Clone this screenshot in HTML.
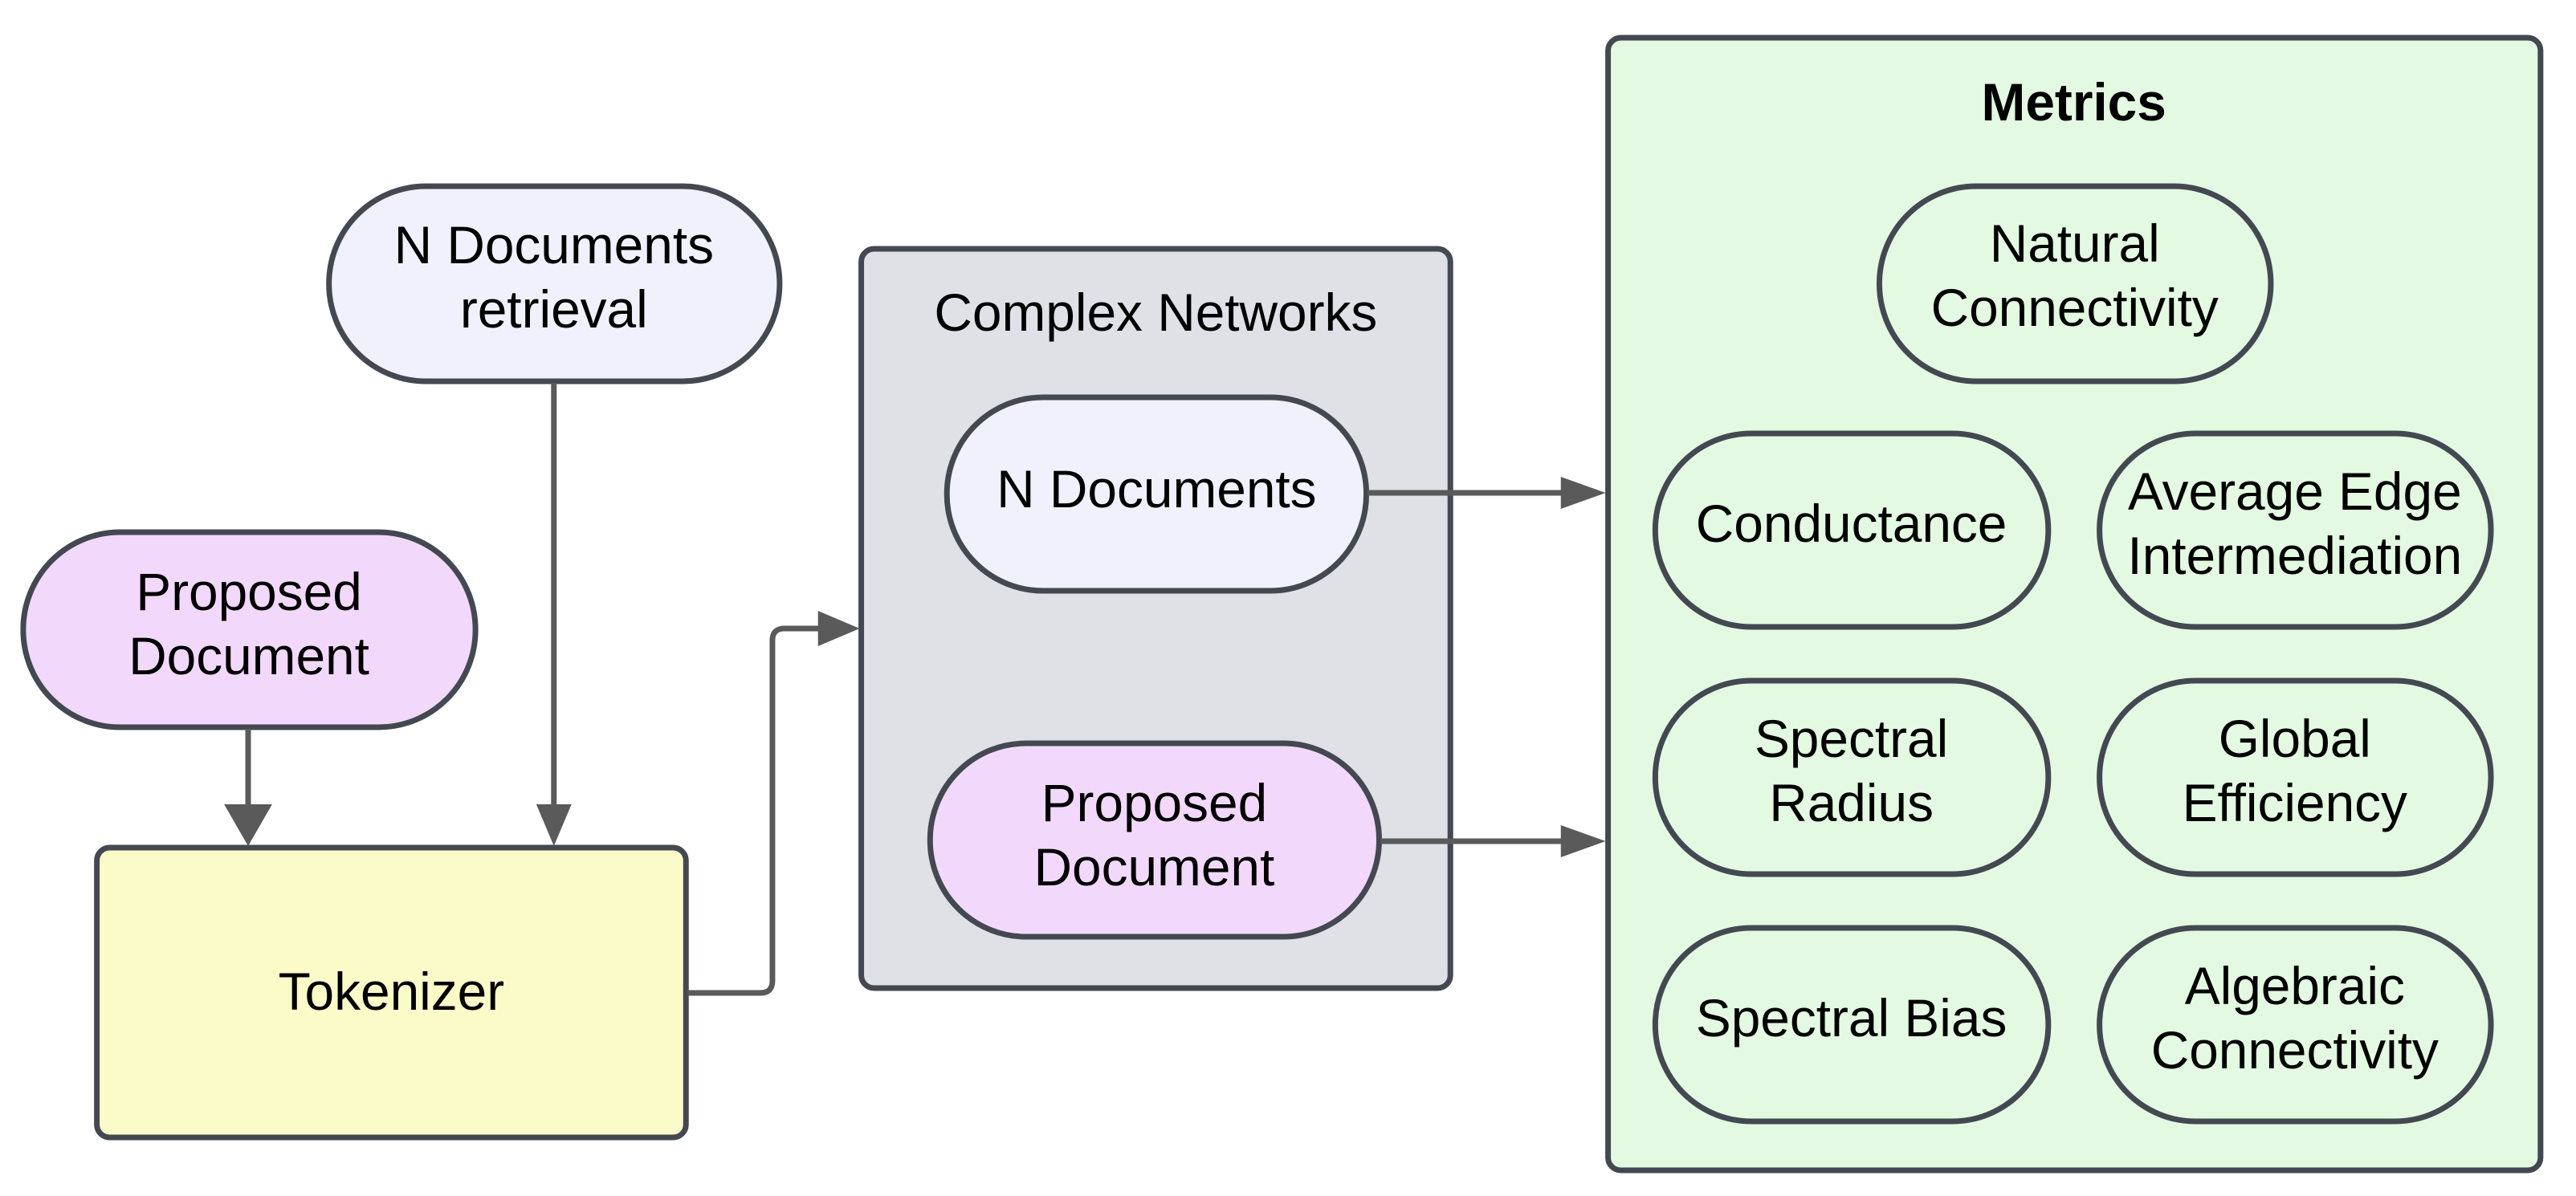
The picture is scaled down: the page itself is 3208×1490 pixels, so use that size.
<!DOCTYPE html>
<html><head><meta charset="utf-8"><style>
html,body{margin:0;padding:0;background:#fff;}
svg{display:block;}
text{font-family:"Liberation Sans",Arial,sans-serif;font-size:66px;fill:#000;text-anchor:middle;}
</style></head><body>
<svg width="3208" height="1490" viewBox="0 0 3208 1490" xmlns="http://www.w3.org/2000/svg">
<g transform="translate(0,-2) scale(0.9968,1)">
<g stroke="#434851" stroke-width="7">
<rect x="2009" y="49" width="1165" height="1411" rx="16" fill="#e3f9e2"/>
<rect x="1076" y="312" width="736" height="921" rx="16" fill="#dfe1e6"/>
<rect x="121" y="1058" width="736" height="361" rx="16" fill="#fbfac9"/>
<rect x="411" y="234" width="563" height="243" rx="121" fill="#f0f1fd"/>
<rect x="29" y="665" width="565" height="243" rx="121" fill="#f2d9fb"/>
<rect x="1183" y="497" width="524" height="241" rx="120" fill="#f0f1fd"/>
<rect x="1162" y="928" width="561" height="241" rx="120" fill="#f2d9fb"/>
<rect x="2348" y="234" width="489" height="243" rx="121" fill="#e3f9e2"/>
<rect x="2068" y="542" width="491" height="241" rx="120" fill="#e3f9e2"/>
<rect x="2623" y="542" width="489" height="241" rx="120" fill="#e3f9e2"/>
<rect x="2068" y="850" width="491" height="241" rx="120" fill="#e3f9e2"/>
<rect x="2623" y="850" width="489" height="241" rx="120" fill="#e3f9e2"/>
<rect x="2068" y="1158" width="491" height="241" rx="120" fill="#e3f9e2"/>
<rect x="2623" y="1158" width="489" height="241" rx="120" fill="#e3f9e2"/>
</g>
<g stroke="#5a5a5a" stroke-width="7" fill="none">
<line x1="310" y1="910" x2="310" y2="1006"/>
<line x1="692" y1="479" x2="692" y2="1006"/>
<path d="M859 1239 H950 Q965 1239 965 1224 V800 Q965 785 980 785 H1024"/>
<line x1="1709" y1="616" x2="1955" y2="616"/>
<line x1="1725" y1="1050" x2="1955" y2="1050"/>
</g>
<g fill="#5a5a5a">
<polygon points="280,1004 340,1004 310,1056"/>
<polygon points="670,1004 714,1004 692,1056"/>
<polygon points="1022,763 1022,807 1074,785"/>
<polygon points="1950,596 1950,636 2006,616"/>
<polygon points="1950,1030 1950,1070 2006,1050"/>
</g>
<text x="692" y="330">N Documents</text>
<text x="692" y="410">retrieval</text>
<text x="311" y="762">Proposed</text>
<text x="311" y="842">Document</text>
<text x="489" y="1260">Tokenizer</text>
<text x="1444" y="414">Complex Networks</text>
<text x="1445" y="634">N Documents</text>
<text x="1442" y="1025">Proposed</text>
<text x="1442" y="1105">Document</text>
<text x="2591" y="152" font-weight="bold">Metrics</text>
<text x="2592" y="328">Natural</text>
<text x="2592" y="408">Connectivity</text>
<text x="2313" y="677">Conductance</text>
<text x="2867" y="637">Average Edge</text>
<text x="2867" y="717">Intermediation</text>
<text x="2313" y="945">Spectral</text>
<text x="2313" y="1025">Radius</text>
<text x="2867" y="945">Global</text>
<text x="2867" y="1025">Efficiency</text>
<text x="2313" y="1293">Spectral Bias</text>
<text x="2867" y="1253">Algebraic</text>
<text x="2867" y="1333">Connectivity</text>
</g>
</svg>
</body></html>
